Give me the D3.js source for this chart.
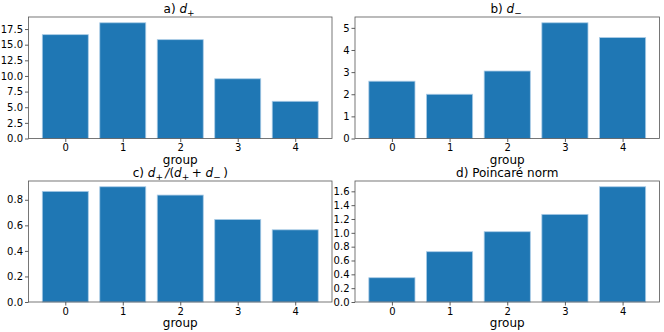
<!DOCTYPE html>
<html>
<head>
<meta charset="utf-8">
<script src="https://cdn.jsdelivr.net/npm/d3@7"></script>
<style>
  body { margin: 0; background: #fff; }
  svg { font-family: "DejaVu Sans", sans-serif; }
</style>
</head>
<body>
<script>
var groups = [0, 1, 2, 3, 4];
var dPlus = [16.6, 18.5, 15.8, 9.55, 5.95];
var dMinus = [2.59, 2.0, 3.05, 5.23, 4.56];
var ratio = [0.866, 0.902, 0.837, 0.646, 0.565];
var poincare = [0.351, 0.727, 1.016, 1.267, 1.666];

var ticksA = [0, 2.5, 5, 7.5, 10, 12.5, 15, 17.5];
var ticksB = [0, 1, 2, 3, 4, 5];
var ticksC = [0, 0.2, 0.4, 0.6, 0.8];
var ticksD = [0, 0.2, 0.4, 0.6, 0.8, 1.0, 1.2, 1.4, 1.6];

var panels = [
  {vals: dPlus, ticks: ticksA, fmt: d3.format(".1f"), x0: 28.5, x1: 332, y0: 17, y1: 138.5, title: 'a'},
  {vals: dMinus, ticks: ticksB, fmt: d3.format("d"), x0: 355, x1: 659.5, y0: 17, y1: 138.5, title: 'b'},
  {vals: ratio, ticks: ticksC, fmt: d3.format(".1f"), x0: 28.5, x1: 332, y0: 181, y1: 302, title: 'c'},
  {vals: poincare, ticks: ticksD, fmt: d3.format(".1f"), x0: 355, x1: 659.5, y0: 181, y1: 302, title: 'd'}
];

var svg = d3.select("body").append("svg")
    .attr("width", 664)
    .attr("height", 332);

function mathTitle(t, key) {
  // builds the matplotlib-like mathtext titles with tspans
  function d(sub) {
    t.append('tspan').attr('font-style', 'italic').text('d');
    t.append('tspan').attr('font-size', 9).attr('dy', 3).text(sub);
    t.append('tspan').attr('dy', -3).text('\u2009');
  }
  if (key === 'a') { t.append('tspan').text('a) '); d('+'); }
  else if (key === 'b') { t.append('tspan').text('b) '); d('\u2212'); }
  else if (key === 'c') {
    t.append('tspan').text('c) '); d('+');
    t.append('tspan').attr('font-style', 'italic').text('/');
    t.append('tspan').text('(');
    d('+');
    t.append('tspan').text('+ ');
    d('\u2212');
    t.append('tspan').text(')');
  }
  else t.text('d) Poincaré norm');
}

panels.forEach(function(p) {
  var x = d3.scaleLinear().domain([-0.64, 4.64]).range([p.x0, p.x1]);
  var ymax = d3.max(p.vals) * 1.05;
  var y = d3.scaleLinear().domain([0, ymax]).range([p.y1, p.y0]);
  var g = svg.append('g');

  g.selectAll('rect.bar')
      .data(p.vals)
    .enter().append('rect')
      .attr('class', 'bar')
      .attr('x', (v, i) => x(groups[i] - 0.4))
      .attr('width', x(0.8) - x(0))
      .attr('y', v => y(v))
      .attr('height', v => y(0) - y(v))
      .attr('fill', '#1f77b4')
      .attr('stroke', '#a9cbe6')
      .attr('stroke-width', 0.8);

  var yAxis = d3.axisLeft(y).tickValues(p.ticks).tickFormat(p.fmt).tickSize(3.5).tickPadding(2);
  var ya = g.append('g').attr('transform', 'translate(' + p.x0 + ',0)').call(yAxis);
  var xAxis = d3.axisBottom(x).tickValues(groups).tickFormat(d3.format('d')).tickSize(3.5).tickPadding(2);
  var xa = g.append('g').attr('transform', 'translate(0,' + p.y1 + ')').call(xAxis);
  [ya, xa].forEach(function(a) {
    a.select('.domain').remove();
    a.selectAll('text').attr('font-size', 10).attr('fill', '#000').attr('font-family', '"DejaVu Sans", sans-serif');
    a.selectAll('line').attr('stroke', '#333').attr('stroke-width', 0.8);
  });

  g.append('rect')
      .attr('x', p.x0).attr('y', p.y0)
      .attr('width', p.x1 - p.x0).attr('height', p.y1 - p.y0)
      .attr('fill', 'none').attr('stroke', '#555').attr('stroke-width', 0.8);

  g.append('text')
      .attr('x', (p.x0 + p.x1) / 2)
      .attr('y', p.y1 + 25)
      .attr('text-anchor', 'middle')
      .attr('font-size', 12)
      .text('group');

  var t = g.append('text')
      .attr('x', (p.x0 + p.x1) / 2)
      .attr('y', p.y0 - 4)
      .attr('text-anchor', 'middle')
      .attr('font-size', 12);
  mathTitle(t, p.title);
});
</script>
</body>
</html>
